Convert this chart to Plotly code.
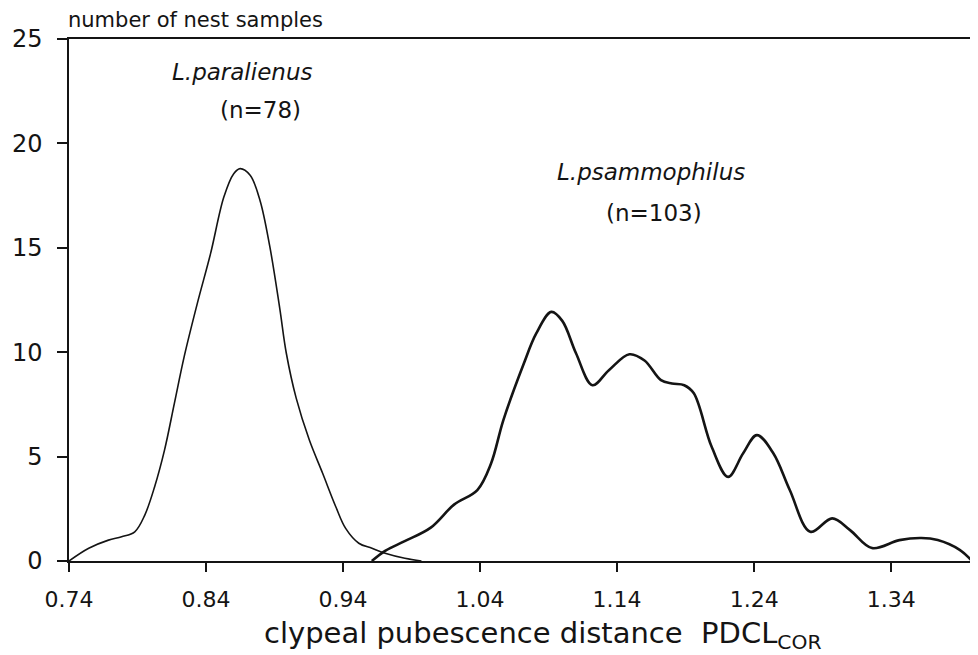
"""Clypeal pubescence distance distributions of two Lasius species."""

import plotly.graph_objects as go

# L. paralienus curve (n=78)
para_x = [0.740, 0.7544, 0.7688, 0.7784, 0.788, 0.7953, 0.8025, 0.8097, 0.8169, 0.8241,
          0.8337, 0.8433, 0.8530, 0.8602, 0.8649, 0.8722, 0.8794, 0.8866, 0.8938, 0.8986,
          0.9058, 0.9154, 0.9251, 0.9347, 0.9419, 0.9515, 0.9611, 0.9707, 0.9851, 0.9972]
para_y = [0.0, 0.61, 1.0, 1.16, 1.4, 2.2, 3.56, 5.31, 7.55, 9.8,
          12.35, 14.72, 17.43, 18.55, 18.79, 18.47, 17.27, 15.04, 12.1, 9.95,
          7.8, 5.79, 4.2, 2.6, 1.56, 0.85, 0.61, 0.37, 0.13, 0.0]

# L. psammophilus curve (n=103)
psam_x = [0.961, 0.971, 0.985, 1.004, 1.021, 1.038, 1.048, 1.057, 1.072, 1.081,
          1.092, 1.100, 1.110, 1.122, 1.134, 1.149, 1.160, 1.172, 1.180, 1.189,
          1.196, 1.209, 1.221, 1.232, 1.242, 1.254, 1.266, 1.281, 1.297, 1.310,
          1.326, 1.346, 1.362, 1.374, 1.390, 1.399]
psam_y = [0.0, 0.5, 0.95, 1.6, 2.7, 3.4, 4.67, 6.75, 9.47, 10.9,
          11.93, 11.5, 9.95, 8.42, 9.14, 9.9, 9.6, 8.66, 8.5, 8.42,
          8.03, 5.47, 4.03, 5.16, 6.03, 5.16, 3.4, 1.4, 2.04, 1.48,
          0.62, 1.0, 1.1, 1.0, 0.53, 0.0]

x_ticks = [0.74, 0.84, 0.94, 1.04, 1.14, 1.24, 1.34]
x_tick_labels = ['0.74', '0.84', '0.94', '1.04', '1.14', '1.24', '1.34']
y_ticks = [0, 5, 10, 15, 20, 25]

FONT = 'DejaVu Sans'
INK = '#141414'

fig = go.Figure()

fig.add_trace(go.Scatter(
    x=para_x, y=para_y, mode='lines',
    line=dict(color=INK, width=1.6, shape='spline', smoothing=1),
    name='L.paralienus',
))
fig.add_trace(go.Scatter(
    x=psam_x, y=psam_y, mode='lines',
    line=dict(color=INK, width=2.6, shape='spline', smoothing=1),
    name='L.psammophilus',
))

# species labels
labels = [
    ('<i>L.paralienus</i>', 0.8660, 23.44),
    ('(n=78)', 0.880, 21.58),
    ('<i>L.psammophilus</i>', 1.1647, 18.61),
    ('(n=103)', 1.1668, 16.65),
]
for text, x, y in labels:
    fig.add_annotation(
        text=text, x=x, y=y, xref='x', yref='y', showarrow=False,
        font=dict(family=FONT, size=23, color=INK),
    )

# axis titles (the page adds an 8px body margin, layout below allows for it)
fig.add_annotation(
    text='number of nest samples', xref='paper', yref='paper',
    x=-0.003, y=1.036, xanchor='left', yanchor='middle', showarrow=False,
    font=dict(family=FONT, size=21, color=INK),
)
fig.add_annotation(
    text='clypeal pubescence distance  PDCL<sub>COR</sub>', xref='paper', yref='paper',
    x=0.525, y=-0.141, xanchor='center', yanchor='middle', showarrow=False,
    font=dict(family=FONT, size=29, color=INK),
)

fig.update_layout(
    width=970, height=647,
    margin=dict(l=52, r=4, t=31, b=94),
    paper_bgcolor='white', plot_bgcolor='white',
    showlegend=False,
    font=dict(family=FONT, color=INK),
    xaxis=dict(
        range=[0.74, 1.399], tickvals=x_ticks, ticktext=x_tick_labels,
        showline=True, linecolor=INK, linewidth=1.5, mirror=True,
        ticks='outside', ticklen=9, tickwidth=1.5, tickcolor=INK,
        ticklabelstandoff=9, tickfont=dict(family=FONT, size=22, color=INK),
        showgrid=False, zeroline=False,
    ),
    yaxis=dict(
        range=[0, 25], tickvals=y_ticks,
        showline=True, linecolor=INK, linewidth=1.5, mirror=True,
        ticks='outside', ticklen=10, tickwidth=1.5, tickcolor=INK,
        ticklabelstandoff=10, tickfont=dict(family=FONT, size=24, color=INK),
        showgrid=False, zeroline=False,
    ),
)

fig.write_html('out.html')
